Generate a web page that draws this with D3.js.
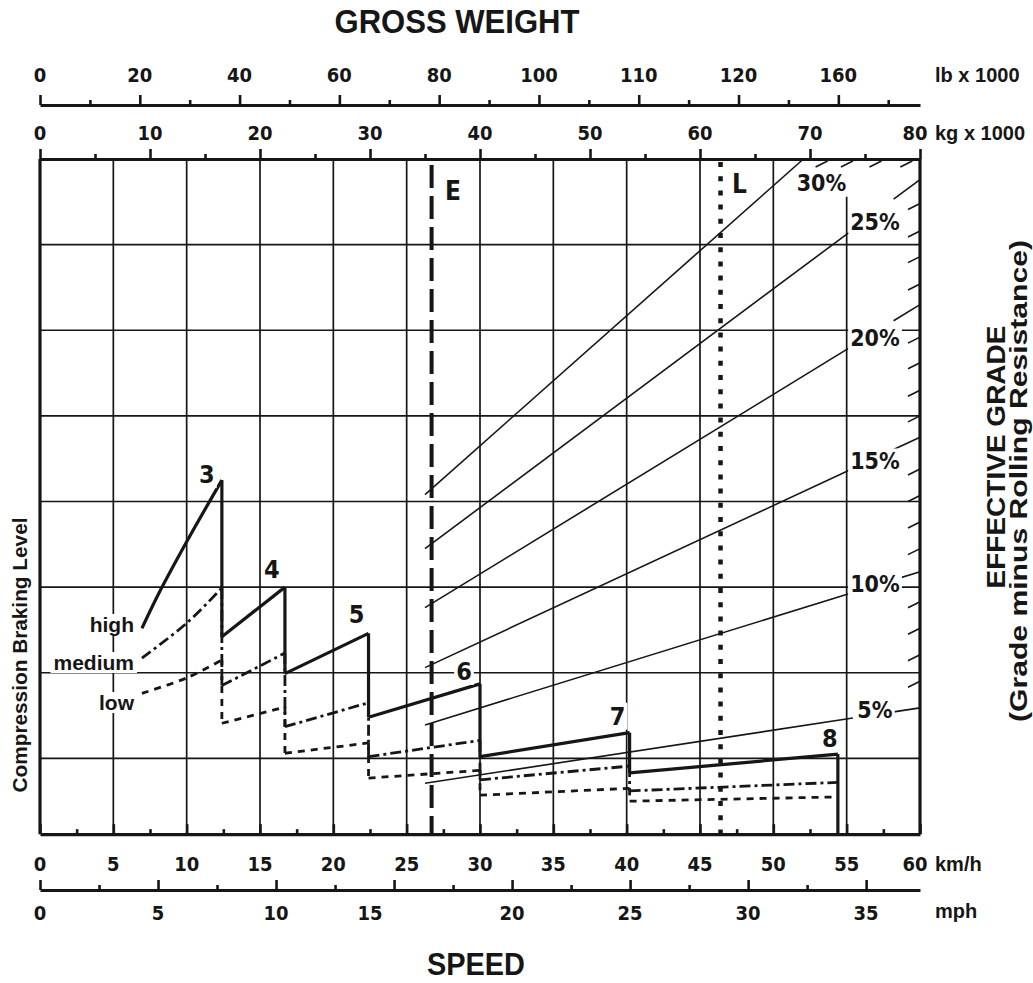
<!DOCTYPE html>
<html><head><meta charset="utf-8">
<script src="https://cdn.jsdelivr.net/npm/d3@7"></script>
<style>html,body{margin:0;padding:0;background:#fff;} svg{display:block}</style>
</head><body>
<svg id="chart" width="1033" height="983"></svg>
<script>
// ---------------- data ----------------
const lbTicks = [0,20,40,60,80,100,120,140,160];
const lbTickLabels = ["0","20","40","60","80","100","110","120","160"];
const lbMinorTicks = [10,30,50,70,90,110,130,150,170];
const kgTicks = [0,10,20,30,40,50,60,70,80];
const kgMinorTicks = [5,15,25,35,45,55,65,75];
const kmhTicks = [0,5,10,15,20,25,30,35,40,45,50,55,60];
const kmhMinorTicks = [2.5,7.5,12.5,17.5,22.5,27.5,32.5,37.5,42.5,47.5,52.5,57.5];
const mphTicks = [0,5,10,15,20,25,30,35];
const mphMinorTicks = [2.5,7.5,12.5,17.5,22.5,27.5,32.5];
const gridKmh = [5,10,15,20,25,30,35,40,45,50,55];
const gridLevels = [1,2,3,4,5,6,7];

const gears = ["3","4","5","6","7","8"];
// [speed km/h, braking level] per gear
const highLevel = [
  [[6.95,2.52],[8.2,2.96],[10.0,3.53],[12.4,4.25]],
  [[12.4,2.42],[16.7,3.00]],
  [[16.7,1.99],[22.4,2.46]],
  [[22.4,1.48],[30.0,1.87]],
  [[30.0,1.02],[40.2,1.30]],
  [[40.2,0.83],[54.4,1.05]]
];
const mediumLevel = [
  [[6.95,2.17],[10.0,2.58],[12.4,2.99]],
  [[12.4,1.85],[16.7,2.23]],
  [[16.7,1.37],[22.4,1.65]],
  [[22.4,1.02],[30.0,1.21]],
  [[30.0,0.75],[40.2,0.91]],
  [[40.2,0.62],[54.4,0.72]]
];
const lowLevel = [
  [[6.95,1.76],[10.0,1.94],[12.4,2.15]],
  [[12.4,1.41],[16.7,1.60]],
  [[16.7,1.06],[22.4,1.18]],
  [[22.4,0.77],[30.0,0.86]],
  [[30.0,0.57],[40.2,0.65]],
  [[40.2,0.50],[54.4,0.55]]
];

const gradeLabeled = [5,10,15,20,25,30];
const gradeStartKg = [35,35,35,35,35,35];
const gradeStartLevel = [0.71,1.39,2.06,2.76,3.45,4.08];
const gradeEndKg = [80,80,80,80,80,69.4];
const gradeEndLevel = [1.59,3.18,4.75,6.30,7.76,8.0];
const gradeTickEdge = [6,7,8,9,11,12,13,14,16,17,18,19,21,22,23,24];
const gradeTickEdgeLevel = [1.90,2.21,2.52,2.83,3.45,3.76,4.07,4.38,5.00,5.30,5.62,5.92,6.54,6.86,7.16,7.48];
const gradeTickTop = [26,27,28,29];
const gradeTickTopKg = [79.3,76.5,73.9,71.6];

const speedE = 26.7, speedL = 46.4;

// ---------------- layout ----------------
const svg = d3.select("#chart");
const ink = "#161616";
const COND = "'Liberation Sans Narrow','DejaVu Sans Condensed','Roboto Condensed','Liberation Sans',Arial,sans-serif";
const SANS = "'Liberation Sans',Arial,Helvetica,sans-serif";
const X0 = 40, X1 = 920;
const kmh = d3.scaleLinear().domain([0,60]).range([X0,X1]);
const mph = d3.scaleLinear().domain([0,60/1.609344]).range([X0,X1]);
const kg  = d3.scaleLinear().domain([0,80]).range([X0,X1]);
const lb  = d3.scaleLinear().domain([0,80/0.45359237]).range([X0,X1]);
const y   = d3.scaleLinear().domain([0,8]).range([844,159]);
const yTop = 8, yFloor = 0.115;
const LB_Y = 105, MPH_Y = 890;

svg.append("rect").attr("width",1033).attr("height",983).attr("fill","#fff");

// gridlines
const grid = svg.append("g").attr("stroke",ink).attr("stroke-width",1.7);
grid.selectAll("line.v").data(gridKmh).join("line")
  .attr("x1",d=>kmh(d)).attr("x2",d=>kmh(d))
  .attr("y1",d=>d===55 ? y(7.56) : y(yTop)).attr("y2",y(yFloor));
grid.selectAll("line.h").data(gridLevels).join("line")
  .attr("x1",X0).attr("x2",X1).attr("y1",d=>y(d)).attr("y2",d=>y(d));

// grade lines
const gapKg = [73.9, 77.6];
const gLine = d3.line().x(d=>kg(d[0])).y(d=>y(d[1]));
const gradesG = svg.append("g").attr("fill","none").attr("stroke",ink).attr("stroke-width",1.6);
gradeLabeled.forEach((g,i)=>{
  const sc = d3.scaleLinear().domain([gradeStartKg[i],gradeEndKg[i]]).range([gradeStartLevel[i],gradeEndLevel[i]]);
  if (gradeEndKg[i] < gapKg[1]) {
    gradesG.append("path").attr("d", gLine([[gradeStartKg[i],gradeStartLevel[i]],[gradeEndKg[i],gradeEndLevel[i]]]));
  } else {
    gradesG.append("path").attr("d", gLine([[gradeStartKg[i],gradeStartLevel[i]],[gapKg[0],sc(gapKg[0])]]));
    gradesG.append("path").attr("d", gLine([[gapKg[1],sc(gapKg[1])],[gradeEndKg[i],gradeEndLevel[i]]]));
  }
});
gradesG.selectAll("line.te").data(gradeTickEdgeLevel).join("line")
  .attr("x1",X1).attr("y1",d=>y(d)).attr("x2",X1-12).attr("y2",d=>y(d)+6);
gradesG.selectAll("line.tt").data(gradeTickTopKg).join("line")
  .attr("x1",d=>kg(d)).attr("y1",y(yTop)+2).attr("x2",d=>kg(d)-12).attr("y2",y(yTop)+8);

// E and L reference lines
svg.append("line").attr("x1",kmh(speedE)).attr("x2",kmh(speedE)).attr("y1",y(yTop)+6).attr("y2",y(yFloor))
  .attr("stroke",ink).attr("stroke-width",4).attr("stroke-dasharray","23,8");
svg.append("line").attr("x1",kmh(speedL)).attr("x2",kmh(speedL)).attr("y1",y(yTop)+3).attr("y2",y(yFloor))
  .attr("stroke",ink).attr("stroke-width",4.5).attr("stroke-dasharray","5,9.2");

// braking curves
const bLine = d3.line().x(d=>kmh(d[0])).y(d=>y(d[1])).curve(d3.curveCatmullRom.alpha(0.5));
const sLine = d3.line().x(d=>kmh(d[0])).y(d=>y(d[1]));
function drawLevel(data, width, dash, dropToFloor){
  const g = svg.append("g").attr("fill","none").attr("stroke",ink).attr("stroke-width",width)
    .attr("stroke-dasharray",dash).attr("stroke-linejoin","miter");
  data.forEach((seg,i)=>{
    g.append("path").attr("d", bLine(seg));
    const last = seg[seg.length-1];
    if (i < data.length-1) {
      g.append("path").attr("d", sLine([last, data[i+1][0]]));
    } else if (dropToFloor) {
      g.append("path").attr("d", sLine([last,[last[0],yFloor]]));
    }
  });
}
drawLevel(lowLevel, 2.8, "7,6", false);
drawLevel(mediumLevel, 2.8, "11,4,3,4", false);
drawLevel(highLevel, 3.2, null, true);

// plot frame
const frame = svg.append("g").attr("stroke",ink).attr("stroke-width",3.2);
frame.append("line").attr("x1",X0).attr("x2",X0).attr("y1",y(yTop)).attr("y2",y(yFloor));
frame.append("line").attr("x1",X1).attr("x2",X1).attr("y1",y(yTop)).attr("y2",y(yFloor));

// axes
function axis(scale, ticks, minor, ypos){
  const g = svg.append("g").attr("transform",`translate(0,${ypos})`);
  g.call(d3.axisTop(scale).tickValues(ticks).tickSize(10).tickSizeOuter(0).tickFormat(""));
  const m = svg.append("g").attr("transform",`translate(0,${ypos})`);
  m.call(d3.axisTop(scale).tickValues(minor).tickSize(5).tickSizeOuter(0).tickFormat(""));
  m.select(".domain").remove();
  [g,m].forEach(s=>{ s.selectAll("line").attr("stroke",ink).attr("stroke-width",2.6); });
  g.select(".domain").attr("stroke",ink).attr("stroke-width",3.2);
}
axis(lb, lbTicks, lbMinorTicks, LB_Y);
axis(kg, kgTicks, kgMinorTicks, y(yTop));
axis(kmh, kmhTicks, kmhMinorTicks, y(yFloor));
axis(mph, mphTicks, mphMinorTicks, MPH_Y);

function tickLabels(vals, labels, scale, ypos, shift){
  svg.append("g").selectAll("text").data(vals).join("text")
    .attr("x",(d,i)=>scale(d)+((shift&&shift[d])||0)).attr("y",ypos)
    .attr("text-anchor","middle").attr("font-family",COND).attr("font-weight","bold")
    .attr("font-size",20).attr("fill",ink).text((d,i)=>labels[i]);
}
tickLabels(lbTicks, lbTickLabels, lb, 82);
tickLabels(kgTicks, kgTicks.map(String), kg, 140, {80:-5});
tickLabels(kmhTicks, kmhTicks.map(String), kmh, 871, {60:-5});
tickLabels(mphTicks, mphTicks.map(String), mph, 920, {15:-24});

function txt(x,yv,s,size,opts={}){
  const t = svg.append("text").attr("x",x).attr("y",yv).text(s)
    .attr("font-family",opts.family||SANS).attr("font-weight","bold").attr("font-size",size)
    .attr("fill",ink).attr("text-anchor",opts.anchor||"start");
  if (opts.len) t.attr("textLength",opts.len).attr("lengthAdjust","spacingAndGlyphs");
  if (opts.rot) t.attr("transform",`rotate(-90,${x},${yv})`);
  return t;
}
function masked(t, pad=2){
  const b = t.node().getBBox();
  svg.insert("rect", function(){ return t.node(); })
    .attr("x",b.x-pad).attr("y",b.y+1).attr("width",b.width+2*pad).attr("height",b.height-2).attr("fill","#fff");
}
txt(935,82,"lb x 1000",20);
txt(935,140,"kg x 1000",20);
txt(935,871,"km/h",20);
txt(935,918,"mph",20);

txt(457,33,"GROSS WEIGHT",33,{anchor:"middle",len:245});
txt(476,975,"SPEED",31,{anchor:"middle",len:98});
txt(1005,457,"EFFECTIVE GRADE",26,{anchor:"middle",len:263,rot:true});
txt(1027,481,"(Grade minus Rolling Resistance)",24,{anchor:"middle",len:482,rot:true});
txt(27,655,"Compression Braking Level",20,{anchor:"middle",len:275,rot:true});

// level labels
[["high",632],["medium",670],["low",710]].forEach(([s,yy])=>{
  const t = txt(134,yy,s,21,{anchor:"end"});
  masked(t,3);
});

// gear labels
const gearLabelOffset = [[-15,3],[-13,-9],[-12,-10],[-16,-4],[-12,-8],[-8,-7]];
gears.forEach((g,i)=>{
  const seg = highLevel[i], peak = seg[seg.length-1];
  const t = txt(kmh(peak[0])+gearLabelOffset[i][0], y(peak[1])+gearLabelOffset[i][1], g, 25, {family:COND,anchor:"middle"});
  masked(t,2);
});

// grade labels
gradeLabeled.forEach((g,i)=>{
  let t;
  if (gradeEndKg[i] < gapKg[1]) {
    t = txt(kg(gradeEndKg[i])+18, y(gradeEndLevel[i])+32, g+"%", 23, {family:COND,anchor:"middle"});
  } else {
    const sc = d3.scaleLinear().domain([gradeStartKg[i],gradeEndKg[i]]).range([gradeStartLevel[i],gradeEndLevel[i]]);
    t = txt(kg(gapKg[0])+22, y(sc(gapKg[0])), g+"%", 23, {family:COND,anchor:"middle"});
  }
  masked(t,2);
});

txt(445,200,"E",26,{family:COND});
txt(732,193,"L",26,{family:COND});
</script>
</body></html>
